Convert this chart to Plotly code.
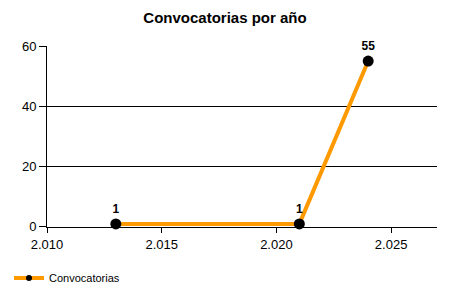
import plotly.graph_objects as go

years = [2013, 2021, 2024]
counts = [1, 1, 55]
labels = ["1", "1", "55"]
series_name = "Convocatorias"
title = "Convocatorias por año"

fig = go.Figure()
fig.add_trace(go.Scatter(
    x=years, y=counts, mode="lines+markers+text", name=series_name,
    text=labels, textposition="top center",
    textfont=dict(family="Liberation Sans, Arial", size=12, color="black", weight="bold"),
    line=dict(color="#FF9900", width=4),
    marker=dict(color="black", size=11),
    cliponaxis=False, showlegend=False, legendgroup="c",
))
# legend-only entry with smaller marker like the reference legend
fig.add_trace(go.Scatter(
    x=[None], y=[None], mode="lines+markers", name=series_name,
    line=dict(color="#FF9900", width=4),
    marker=dict(color="black", size=6),
    showlegend=True, legendgroup="c",
))

fig.update_layout(
    width=450, height=300,
    margin=dict(l=47, r=13, t=46, b=72),
    paper_bgcolor="white", plot_bgcolor="white",
    separators=",.",
    title=dict(text="<b>" + title + "</b>", x=0.5, xanchor="center", y=1 - 18/300, yanchor="middle",
               font=dict(family="Liberation Sans, Arial", size=15, color="black")),
    font=dict(family="Liberation Sans, Arial", size=12, color="black"),
    showlegend=True,
    legend=dict(orientation="h", xref="container", yref="container", x=0.02, y=1 - 278/300,
                xanchor="left", yanchor="middle", font=dict(size=11, color="black"),
                bgcolor="rgba(0,0,0,0)", itemwidth=30),
    xaxis=dict(range=[2010, 2027], dtick=5, tick0=2010, tickformat=",d",
               showgrid=False, zeroline=False, showline=True, linecolor="black", linewidth=1,
               ticks="outside", ticklen=5, tickcolor="black",
               tickfont=dict(size=13, color="black")),
    yaxis=dict(range=[0, 60], dtick=20, showgrid=True, gridcolor="black", gridwidth=1,
               zeroline=False, showline=True, linecolor="black", linewidth=1,
               ticks="outside", ticklen=7, tickcolor="black",
               tickfont=dict(size=13, color="black")),
)

fig.write_html("out.html")
